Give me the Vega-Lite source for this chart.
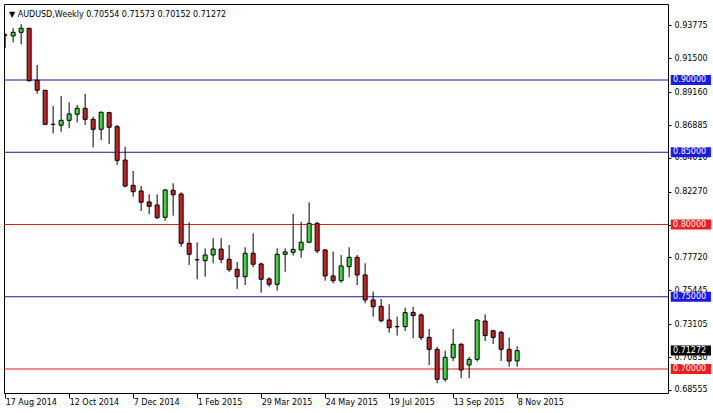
{
  "$schema": "https://vega.github.io/schema/vega-lite/v6.json",
  "width": 664,
  "height": 389,
  "autosize": {"type": "none"},
  "padding": {"left": 4, "top": 4, "right": 45, "bottom": 20},
  "background": "white",
  "title": {"text": "▼  AUDUSD,Weekly  0.70554 0.71573 0.70152 0.71272", "anchor": "start", "frame": "group", "offset": -21, "baseline": "alphabetic", "font": "DejaVu Sans", "fontSize": 8, "fontWeight": "normal", "color": "black", "dx": 5},
  "config": {
    "view": {"stroke": "black", "strokeWidth": 1},
    "axis": {"labelFont": "DejaVu Sans", "labelFontSize": 8, "labelColor": "black", "tickColor": "black", "domain": false, "grid": false, "title": null}
  },
  "resolve": {"axis": {"x": "independent", "y": "independent"}},
  "datasets": {
    "candles": [
      {"date": "2014-08-17", "open": 0.9311, "high": 0.9323, "low": 0.9222, "close": 0.9311},
      {"date": "2014-08-24", "open": 0.9305, "high": 0.9358, "low": 0.9261, "close": 0.9330},
      {"date": "2014-08-31", "open": 0.9330, "high": 0.9386, "low": 0.9247, "close": 0.9358},
      {"date": "2014-09-07", "open": 0.9358, "high": 0.9360, "low": 0.8990, "close": 0.8995},
      {"date": "2014-09-14", "open": 0.8998, "high": 0.9104, "low": 0.8905, "close": 0.8929},
      {"date": "2014-09-21", "open": 0.8929, "high": 0.8930, "low": 0.8689, "close": 0.8693},
      {"date": "2014-09-28", "open": 0.8693, "high": 0.8820, "low": 0.8631, "close": 0.8693},
      {"date": "2014-10-05", "open": 0.8687, "high": 0.8889, "low": 0.8642, "close": 0.8721},
      {"date": "2014-10-12", "open": 0.8721, "high": 0.8846, "low": 0.8666, "close": 0.8765},
      {"date": "2014-10-19", "open": 0.8763, "high": 0.8827, "low": 0.8707, "close": 0.8804},
      {"date": "2014-10-26", "open": 0.8804, "high": 0.8903, "low": 0.8689, "close": 0.8728},
      {"date": "2014-11-02", "open": 0.8728, "high": 0.8746, "low": 0.8534, "close": 0.8659},
      {"date": "2014-11-09", "open": 0.8659, "high": 0.8781, "low": 0.8585, "close": 0.8777},
      {"date": "2014-11-16", "open": 0.8774, "high": 0.8781, "low": 0.8557, "close": 0.8673},
      {"date": "2014-11-23", "open": 0.8677, "high": 0.8689, "low": 0.8412, "close": 0.8444},
      {"date": "2014-11-30", "open": 0.8446, "high": 0.8538, "low": 0.8257, "close": 0.8266},
      {"date": "2014-12-07", "open": 0.8271, "high": 0.8370, "low": 0.8192, "close": 0.8227},
      {"date": "2014-12-14", "open": 0.8232, "high": 0.8266, "low": 0.8093, "close": 0.8154},
      {"date": "2014-12-21", "open": 0.8156, "high": 0.8209, "low": 0.8071, "close": 0.8126},
      {"date": "2014-12-28", "open": 0.8135, "high": 0.8209, "low": 0.8038, "close": 0.8047},
      {"date": "2015-01-04", "open": 0.8050, "high": 0.8244, "low": 0.8026, "close": 0.8239},
      {"date": "2015-01-11", "open": 0.8237, "high": 0.8285, "low": 0.8061, "close": 0.8206},
      {"date": "2015-01-18", "open": 0.8211, "high": 0.8223, "low": 0.7846, "close": 0.7870},
      {"date": "2015-01-25", "open": 0.7870, "high": 0.8015, "low": 0.7720, "close": 0.7794},
      {"date": "2015-02-01", "open": 0.7756, "high": 0.7877, "low": 0.7621, "close": 0.7756},
      {"date": "2015-02-08", "open": 0.7750, "high": 0.7835, "low": 0.7639, "close": 0.7789},
      {"date": "2015-02-15", "open": 0.7789, "high": 0.7905, "low": 0.7732, "close": 0.7830},
      {"date": "2015-02-22", "open": 0.7830, "high": 0.7905, "low": 0.7732, "close": 0.7759},
      {"date": "2015-03-01", "open": 0.7759, "high": 0.7858, "low": 0.7673, "close": 0.7687},
      {"date": "2015-03-08", "open": 0.7690, "high": 0.7741, "low": 0.7554, "close": 0.7639},
      {"date": "2015-03-15", "open": 0.7639, "high": 0.7842, "low": 0.7581, "close": 0.7801},
      {"date": "2015-03-22", "open": 0.7801, "high": 0.7939, "low": 0.7704, "close": 0.7725},
      {"date": "2015-03-29", "open": 0.7727, "high": 0.7736, "low": 0.7528, "close": 0.7621},
      {"date": "2015-04-05", "open": 0.7623, "high": 0.7635, "low": 0.7569, "close": 0.7586},
      {"date": "2015-04-12", "open": 0.7586, "high": 0.7835, "low": 0.7542, "close": 0.7794},
      {"date": "2015-04-19", "open": 0.7794, "high": 0.7835, "low": 0.7673, "close": 0.7810},
      {"date": "2015-04-26", "open": 0.7808, "high": 0.8073, "low": 0.7784, "close": 0.7828},
      {"date": "2015-05-03", "open": 0.7824, "high": 0.8019, "low": 0.7770, "close": 0.7877},
      {"date": "2015-05-10", "open": 0.7877, "high": 0.8154, "low": 0.7875, "close": 0.8008},
      {"date": "2015-05-17", "open": 0.8008, "high": 0.8019, "low": 0.7801, "close": 0.7817},
      {"date": "2015-05-24", "open": 0.7824, "high": 0.7828, "low": 0.7611, "close": 0.7644},
      {"date": "2015-05-31", "open": 0.7644, "high": 0.7812, "low": 0.7593, "close": 0.7611},
      {"date": "2015-06-07", "open": 0.7611, "high": 0.7789, "low": 0.7597, "close": 0.7713},
      {"date": "2015-06-14", "open": 0.7708, "high": 0.7842, "low": 0.7635, "close": 0.7773},
      {"date": "2015-06-21", "open": 0.7773, "high": 0.7789, "low": 0.7581, "close": 0.7651},
      {"date": "2015-06-28", "open": 0.7651, "high": 0.7732, "low": 0.7455, "close": 0.7478},
      {"date": "2015-07-05", "open": 0.7478, "high": 0.7535, "low": 0.7362, "close": 0.7431},
      {"date": "2015-07-12", "open": 0.7434, "high": 0.7484, "low": 0.7323, "close": 0.7334},
      {"date": "2015-07-19", "open": 0.7339, "high": 0.7448, "low": 0.7251, "close": 0.7286},
      {"date": "2015-07-26", "open": 0.7293, "high": 0.7362, "low": 0.7231, "close": 0.7293},
      {"date": "2015-08-02", "open": 0.7293, "high": 0.7424, "low": 0.7263, "close": 0.7390},
      {"date": "2015-08-09", "open": 0.7392, "high": 0.7431, "low": 0.7213, "close": 0.7369},
      {"date": "2015-08-16", "open": 0.7374, "high": 0.7386, "low": 0.7201, "close": 0.7217},
      {"date": "2015-08-23", "open": 0.7219, "high": 0.7277, "low": 0.7028, "close": 0.7136},
      {"date": "2015-08-30", "open": 0.7136, "high": 0.7154, "low": 0.6901, "close": 0.6929},
      {"date": "2015-09-06", "open": 0.6929, "high": 0.7127, "low": 0.6912, "close": 0.7081},
      {"date": "2015-09-13", "open": 0.7078, "high": 0.7277, "low": 0.7055, "close": 0.7171},
      {"date": "2015-09-20", "open": 0.7171, "high": 0.7178, "low": 0.6936, "close": 0.6993},
      {"date": "2015-09-27", "open": 0.7028, "high": 0.7085, "low": 0.6936, "close": 0.7066},
      {"date": "2015-10-04", "open": 0.7067, "high": 0.7344, "low": 0.7051, "close": 0.7339},
      {"date": "2015-10-11", "open": 0.7332, "high": 0.7379, "low": 0.7194, "close": 0.7231},
      {"date": "2015-10-18", "open": 0.7265, "high": 0.7270, "low": 0.7173, "close": 0.7219},
      {"date": "2015-10-25", "open": 0.7254, "high": 0.7265, "low": 0.7055, "close": 0.7136},
      {"date": "2015-11-01", "open": 0.7136, "high": 0.7217, "low": 0.7016, "close": 0.7055},
      {"date": "2015-11-08", "open": 0.70554, "high": 0.71573, "low": 0.70152, "close": 0.71272}
    ],
    "levels": [
      {"level": 0.90, "kind": "blue"},
      {"level": 0.85, "kind": "blue"},
      {"level": 0.80, "kind": "red"},
      {"level": 0.75, "kind": "blue"},
      {"level": 0.70, "kind": "red"}
    ]
  },
  "layer": [
    {
      "data": {"name": "levels"},
      "mark": {"type": "rule", "strokeWidth": 1},
      "encoding": {
        "y": {"field": "level", "type": "quantitative",
          "scale": {"domain": [0.68339, 0.95260], "nice": false, "zero": false, "padding": 0},
          "axis": {"orient": "right", "values": [0.68555, 0.7083, 0.73105, 0.75445, 0.7772, 0.79995, 0.8227, 0.8461, 0.86885, 0.8916, 0.915, 0.93775], "format": ".5f", "tickSize": 3, "labelPadding": 3, "labelAlign": "left", "labelBaseline": "middle", "labelOverlap": false, "labelFlush": false, "labelBound": false}},
        "color": {"condition": {"test": "datum.kind === 'red'", "value": "#d82020"}, "value": "#1a1a8c"}
      }
    },
    {
      "data": {"name": "candles"},
      "mark": {"type": "rule", "color": "black", "strokeWidth": 1, "clip": true},
      "encoding": {
        "x": {"field": "date", "type": "temporal",
          "scale": {"type": "utc", "padding": 0, "domain": [{"year": 2014, "month": 8, "date": 16, "utc": true}, {"year": 2016, "month": 3, "date": 19, "utc": true}]},
          "axis": {"orient": "bottom", "values": [
            {"year": 2014, "month": 8, "date": 17, "utc": true},
            {"year": 2014, "month": 10, "date": 12, "utc": true},
            {"year": 2014, "month": 12, "date": 7, "utc": true},
            {"year": 2015, "month": 2, "date": 1, "utc": true},
            {"year": 2015, "month": 3, "date": 29, "utc": true},
            {"year": 2015, "month": 5, "date": 24, "utc": true},
            {"year": 2015, "month": 7, "date": 19, "utc": true},
            {"year": 2015, "month": 9, "date": 13, "utc": true},
            {"year": 2015, "month": 11, "date": 8, "utc": true}
          ], "labelExpr": "utcFormat(datum.value, '%-d %b %Y')", "tickSize": 5, "labelAlign": "left", "labelPadding": 0, "labelFlush": false, "labelOverlap": false}},
        "y": {"field": "low", "type": "quantitative", "axis": null},
        "y2": {"field": "high"}
      }
    },
    {
      "data": {"name": "candles"},
      "mark": {"type": "bar", "width": 4, "stroke": "black", "strokeWidth": 1, "clip": true},
      "encoding": {
        "x": {"field": "date", "type": "temporal", "axis": null},
        "y": {"field": "open", "type": "quantitative", "axis": null},
        "y2": {"field": "close"},
        "color": {"condition": {"test": "datum.close > datum.open", "value": "#3cd83c"}, "value": "#cc1f1f"}
      }
    },
    {
      "data": {"name": "levels"},
      "mark": {"type": "bar", "height": 10},
      "encoding": {
        "x": {"datum": {"year": 2016, "month": 3, "date": 21, "hours": 10, "utc": true}, "type": "temporal", "axis": null},
        "x2": {"datum": {"year": 2016, "month": 4, "date": 25, "hours": 14, "utc": true}},
        "y": {"field": "level", "type": "quantitative", "axis": null},
        "color": {"condition": {"test": "datum.kind === 'red'", "value": "#ee1c1c"}, "value": "#1a1ae6"}
      }
    },
    {
      "data": {"name": "levels"},
      "mark": {"type": "text", "align": "left", "baseline": "middle", "font": "DejaVu Sans", "fontSize": 8, "color": "white"},
      "encoding": {
        "x": {"datum": {"year": 2016, "month": 3, "date": 23, "hours": 10, "utc": true}, "type": "temporal", "axis": null},
        "y": {"field": "level", "type": "quantitative", "axis": null},
        "text": {"field": "level", "type": "quantitative", "format": ".5f"}
      }
    },
    {
      "data": {"name": "candles"},
      "transform": [{"filter": "utcyear(datum.date) == 2015 && utcmonth(datum.date) == 10 && utcdate(datum.date) == 8"}],
      "mark": {"type": "bar", "height": 10, "color": "black"},
      "encoding": {
        "x": {"datum": {"year": 2016, "month": 3, "date": 21, "hours": 10, "utc": true}, "type": "temporal", "axis": null},
        "x2": {"datum": {"year": 2016, "month": 4, "date": 25, "hours": 14, "utc": true}},
        "y": {"field": "close", "type": "quantitative", "axis": null}
      }
    },
    {
      "data": {"name": "candles"},
      "transform": [{"filter": "utcyear(datum.date) == 2015 && utcmonth(datum.date) == 10 && utcdate(datum.date) == 8"}],
      "mark": {"type": "text", "align": "left", "baseline": "middle", "font": "DejaVu Sans", "fontSize": 8, "color": "white"},
      "encoding": {
        "x": {"datum": {"year": 2016, "month": 3, "date": 23, "hours": 10, "utc": true}, "type": "temporal", "axis": null},
        "y": {"field": "close", "type": "quantitative", "axis": null},
        "text": {"field": "close", "type": "quantitative", "format": ".5f"}
      }
    }
  ]
}
